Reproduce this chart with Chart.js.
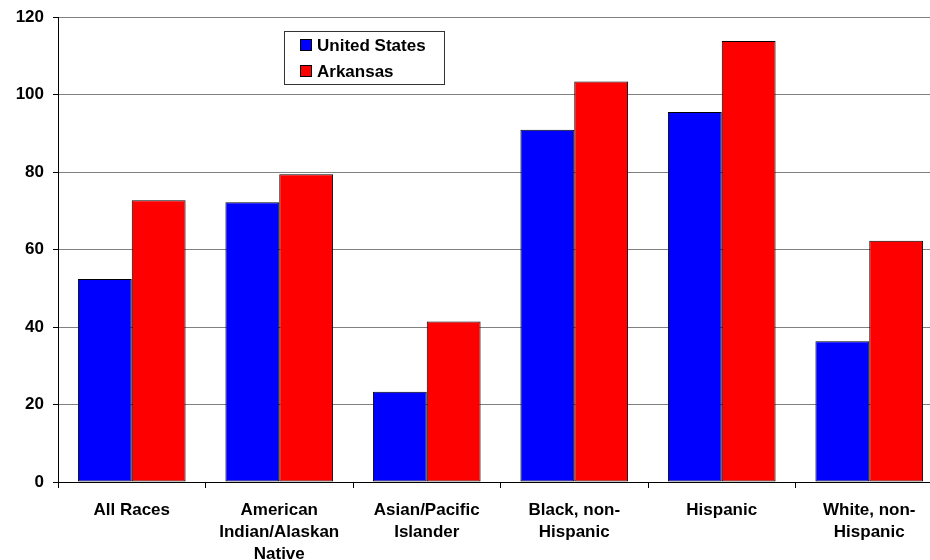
<!DOCTYPE html>
<html>
<head>
<meta charset="utf-8">
<script src="https://cdn.jsdelivr.net/npm/chart.js@4.4.0/dist/chart.umd.min.js"></script>
<style>
  html, body { margin: 0; padding: 0; background: #fff; overflow: hidden; }
  #wrap { width: 945px; height: 560px; position: relative; }
</style>
</head>
<body>
<div id="wrap"><canvas id="myChart"></canvas></div>
<script>
// Categorias y series
const categorias = [
    'All Races',
    ['American', 'Indian/Alaskan', 'Native'],
    ['Asian/Pacific', 'Islander'],
    ['Black, non-', 'Hispanic'],
    'Hispanic',
    ['White, non-', 'Hispanic']
];
const estadosUnidos = [52.4, 72.2, 23.3, 90.9, 95.5, 36.3];
const arkansas = [72.7, 79.4, 41.4, 103.4, 113.8, 62.3];
const ticksY = [0, 20, 40, 60, 80, 100, 120];

const familia = 'Arial, "Liberation Sans", sans-serif';
const fuenteX = { family: familia, size: 17, weight: 'bold', lineHeight: 1.3 };
const fuenteY = { family: familia, size: 17, weight: 'bold', lineHeight: 0.95 };

// leyenda dibujada dentro del area del grafico
const leyendaInterna = {
    id: 'leyendaInterna',
    afterDraw(chart) {
        const ctx = chart.ctx;
        const x = 284, y = 31, w = 160, h = 53;
        ctx.save();
        ctx.fillStyle = '#fff';
        ctx.fillRect(x, y, w, h);
        ctx.strokeStyle = '#333';
        ctx.lineWidth = 1;
        ctx.strokeRect(x + 0.5, y + 0.5, w, h);
        ctx.font = 'bold 17px ' + familia;
        ctx.textBaseline = 'middle';
        chart.data.datasets.forEach((ds, i) => {
            const cy = 45 + i * 26;
            ctx.fillStyle = ds.backgroundColor;
            ctx.fillRect(300.5, cy - 5.5, 11, 11);
            ctx.strokeStyle = '#000';
            ctx.strokeRect(300.5, cy - 5.5, 11, 11);
            ctx.fillStyle = '#000';
            ctx.fillText(ds.label, 317, cy + 1);
        });
        ctx.restore();
    }
};

const data = {
    labels: categorias,
    datasets: [{
        label: 'United States',
        data: estadosUnidos,
        backgroundColor: '#0000ff',
        borderColor: '#000',
        borderWidth: 1,
        borderSkipped: false
    }, {
        label: 'Arkansas',
        data: arkansas,
        backgroundColor: '#ff0000',
        borderColor: '#000',
        borderWidth: 1,
        borderSkipped: false
    }]
};

const config = {
    type: 'bar',
    data: data,
    options: {
        responsive: false,
        animation: false,
        devicePixelRatio: 1,
        layout: { padding: { top: 0, right: 2, left: 0, bottom: 0 } },
        datasets: { bar: { categoryPercentage: 0.73, barPercentage: 1.0 } },
        plugins: {
            legend: { display: false },
            tooltip: { enabled: false }
        },
        scales: {
            x: {
                offset: true,
                grid: {
                    offset: true,
                    drawOnChartArea: false,
                    drawTicks: true,
                    tickLength: 6,
                    color: '#000'
                },
                border: { color: '#000', width: 1 },
                ticks: {
                    color: '#000',
                    font: fuenteX,
                    maxRotation: 0,
                    autoSkip: false,
                    padding: 11
                },
                afterFit(scale) { scale.height = 78; }
            },
            y: {
                min: 0,
                max: 120,
                afterBuildTicks(scale) { scale.ticks = ticksY.map(v => ({ value: v })); },
                grid: {
                    color: '#808080',
                    tickColor: '#000',
                    tickLength: 5,
                    lineWidth: 1
                },
                border: { color: '#000', width: 1 },
                ticks: {
                    color: '#000',
                    font: fuenteY,
                    padding: 9
                },
                afterFit(scale) { scale.width = 58; }
            }
        }
    },
    plugins: [leyendaInterna]
};

const canvas = document.getElementById('myChart');
canvas.width = 945;
canvas.height = 560;
const grafico = new Chart(canvas, config);
console.log(JSON.stringify(grafico.chartArea));
</script>
</body>
</html>
